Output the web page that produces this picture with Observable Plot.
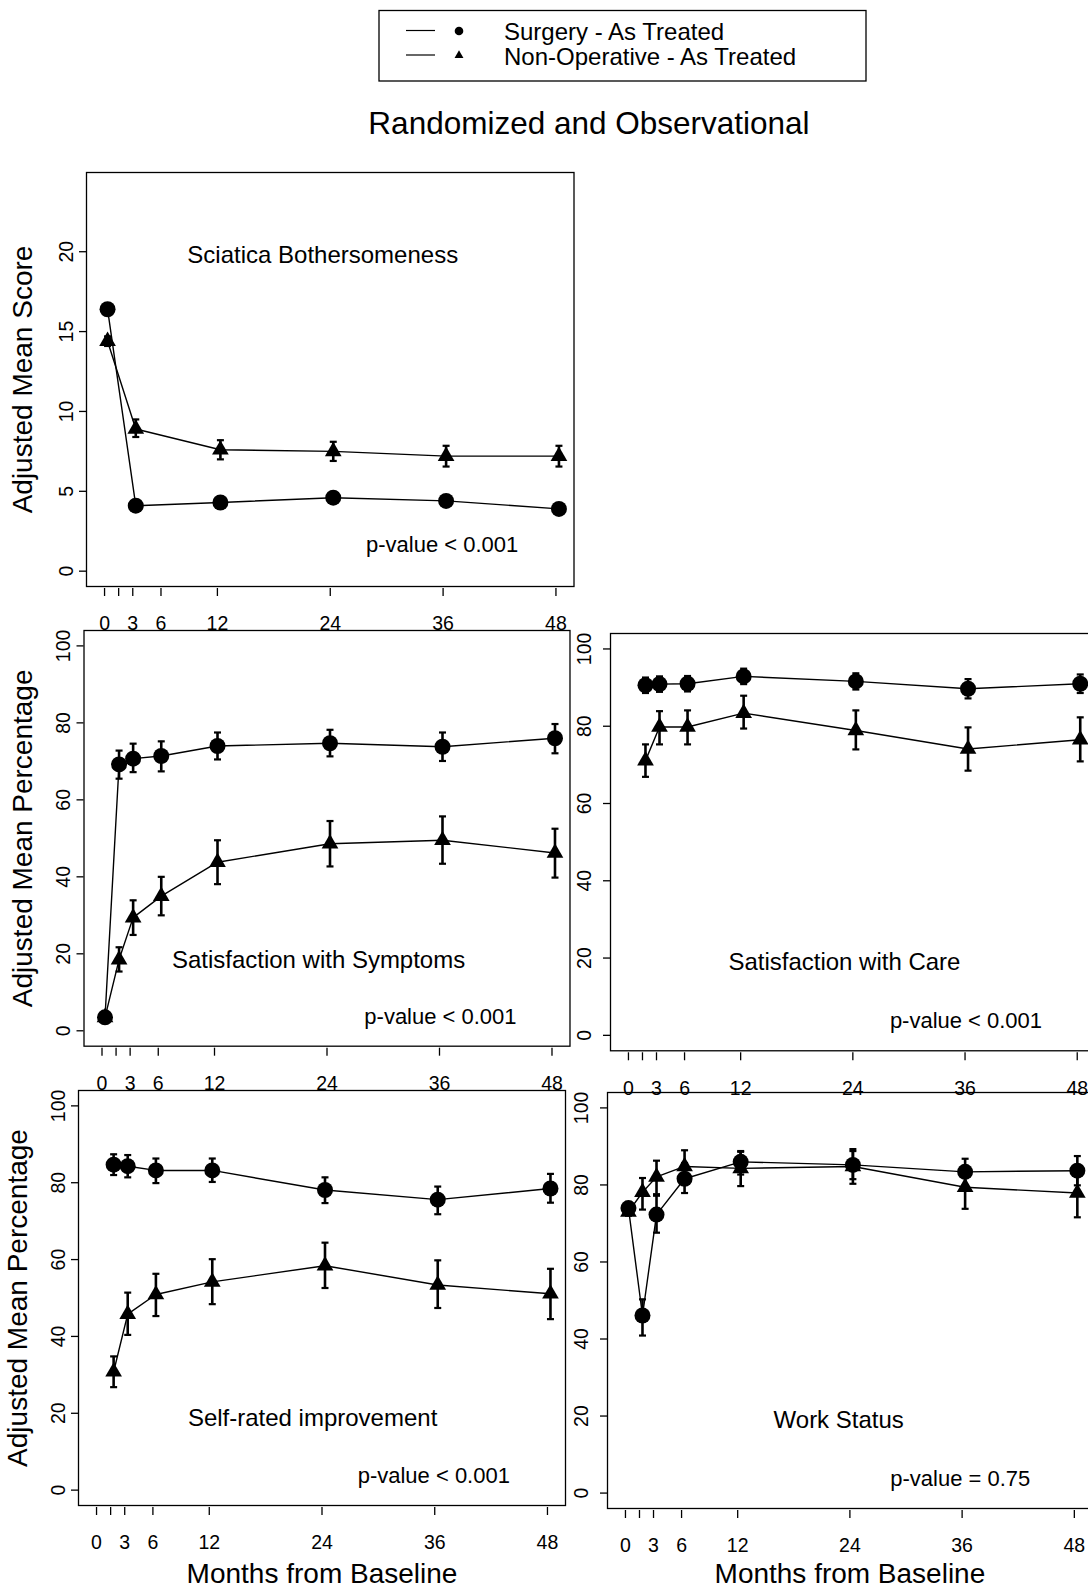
<!DOCTYPE html>
<html>
<head>
<meta charset="utf-8">
<script src="https://cdn.jsdelivr.net/npm/d3@7"></script>
<script src="https://cdn.jsdelivr.net/npm/@observablehq/plot@0.6"></script>
<style>
  body { margin: 0; background: #fff; }
  #page { position: relative; width: 1088px; height: 1593px; overflow: hidden; background: #fff;
          font-family: "Liberation Sans", Arial, sans-serif; }
  .panel { position: absolute; }
  .panel svg { overflow: visible; max-width: none; }
</style>
</head>
<body>
<div id="page"></div>
<script>
// ---------- shared axis values ----------
const tickMonths = [0, 1.5, 3, 6, 12, 24, 36, 48];
const tickLabels = ["0", "", "3", "6", "12", "24", "36", "48"];
const percentTicks = [0, 20, 40, 60, 80, 100];
const scoreTicks = [0, 5, 10, 15, 20];
const seriesNames = ["Surgery - As Treated", "Non-Operative - As Treated"];
const chartTitle = "Randomized and Observational";
const xAxisTitle = "Months from Baseline";

// ---------- Sciatica Bothersomeness ----------
const sciaticaMonths = [0, 3, 12, 24, 36, 48];
const sciaticaSurgery = [16.4, 4.1, 4.3, 4.6, 4.4, 3.9];
const sciaticaSurgeryLow = [16.1, 3.8, 4.0, 4.3, 4.1, 3.6];
const sciaticaSurgeryHigh = [16.7, 4.4, 4.6, 4.9, 4.7, 4.2];
const sciaticaNonOp = [14.4, 8.9, 7.6, 7.5, 7.2, 7.2];
const sciaticaNonOpLow = [14.1, 8.4, 7.0, 6.9, 6.55, 6.55];
const sciaticaNonOpHigh = [14.7, 9.5, 8.2, 8.1, 7.85, 7.85];

// ---------- Satisfaction with Symptoms ----------
const symptomsMonths = [0, 1.5, 3, 6, 12, 24, 36, 48];
const symptomsSurgery = [3.5, 69.2, 70.7, 71.4, 74.0, 74.7, 73.8, 76.0];
const symptomsSurgeryLow = [2.5, 65.5, 67.2, 67.4, 70.5, 71.3, 70.1, 72.1];
const symptomsSurgeryHigh = [4.5, 72.8, 74.6, 75.2, 77.5, 78.2, 77.5, 79.7];
const symptomsNonOp = [3.5, 18.5, 29.4, 35.0, 43.8, 48.6, 49.5, 46.2];
const symptomsNonOpLow = [2.5, 15.4, 24.9, 30.0, 38.1, 42.7, 43.4, 39.8];
const symptomsNonOpHigh = [4.5, 21.7, 33.9, 40.0, 49.5, 54.5, 55.7, 52.5];

// ---------- Satisfaction with Care ----------
const careMonths = [1.5, 3, 6, 12, 24, 36, 48];
const careSurgery = [90.6, 90.9, 91.0, 92.9, 91.6, 89.7, 91.0];
const careSurgeryLow = [88.6, 88.9, 89.0, 90.9, 89.5, 87.2, 88.6];
const careSurgeryHigh = [92.6, 92.9, 93.0, 94.9, 93.7, 92.2, 93.4];
const careNonOp = [71.1, 79.8, 79.8, 83.4, 78.9, 74.1, 76.5];
const careNonOpLow = [66.9, 75.3, 75.3, 79.4, 74.0, 68.5, 70.9];
const careNonOpHigh = [75.3, 83.9, 84.1, 87.9, 84.1, 79.7, 82.3];

// ---------- Self-rated improvement ----------
const improveMonths = [1.5, 3, 6, 12, 24, 36, 48];
const improveSurgery = [84.7, 84.3, 83.2, 83.2, 78.1, 75.6, 78.5];
const improveSurgeryLow = [82.0, 81.4, 79.9, 80.2, 74.7, 71.8, 74.8];
const improveSurgeryHigh = [87.4, 87.2, 86.3, 86.3, 81.4, 79.0, 82.3];
const improveNonOp = [30.8, 45.8, 50.9, 54.2, 58.4, 53.4, 51.1];
const improveNonOpLow = [26.8, 40.4, 45.3, 48.4, 52.6, 47.4, 44.5];
const improveNonOpHigh = [34.8, 51.4, 56.3, 60.1, 64.4, 59.8, 57.6];

// ---------- Work Status ----------
const workMonths = [0, 1.5, 3, 6, 12, 24, 36, 48];
const workSurgery = [74.0, 46.1, 72.3, 81.6, 86.0, 85.2, 83.4, 83.7];
const workSurgeryLow = [72.8, 40.9, 67.6, 77.9, 82.7, 81.5, 79.9, 79.9];
const workSurgeryHigh = [75.2, 50.3, 77.2, 85.7, 88.8, 89.3, 86.8, 87.5];
const workNonOp = [73.0, 78.1, 82.1, 84.8, 84.3, 84.8, 79.4, 77.9];
const workNonOpLow = [72.0, 73.6, 77.6, 80.7, 79.7, 80.3, 73.8, 71.6];
const workNonOpHigh = [74.0, 81.8, 86.3, 89.0, 88.6, 88.8, 84.3, 83.9];

// ---------- panel texts ----------
const panelTitles = ["Sciatica Bothersomeness", "Satisfaction with Symptoms", "Satisfaction with Care",
                     "Self-rated improvement", "Work Status"];
const pValueLabels = ["p-value < 0.001", "p-value < 0.001", "p-value < 0.001", "p-value < 0.001", "p-value = 0.75"];
const yAxisTitles = ["Adjusted Mean Score", "Adjusted Mean Percentage", null, "Adjusted Mean Percentage", null];

// ---------- helpers ----------
const FONT = '"Liberation Sans", Arial, Helvetica, sans-serif';
const labelOf = new Map(tickMonths.map((m, i) => [m, tickLabels[i]]));
const capSymbol = {
  draw(context, size) {
    const w = Math.sqrt(size / Math.PI);
    context.moveTo(-w, 0);
    context.lineTo(w, 0);
  }
};

function rows(months, vals, lo, hi, group) {
  return months.map((m, i) => ({month: m, value: vals[i], lo: lo[i], hi: hi[i], group}));
}

const page = document.getElementById("page");
const PAGE_H = 1593;

function drawPanel(p) {
  const [L, T, R, B] = p.box;
  const mL = p.leftCol ? L : 50;
  const mT = 10, mR = 10;
  const mB = p.bottomRow ? PAGE_H - B : 60;
  const width = R - L + mL + mR;
  const height = B - T + mT + mB;
  const surg = rows(p.months, p.surgery[0], p.surgery[1], p.surgery[2], seriesNames[0]);
  const nonop = rows(p.months, p.nonop[0], p.nonop[1], p.nonop[2], seriesNames[1]);
  const all = nonop.concat(surg);
  const shift = 3;
  const marks = [
    Plot.frame({stroke: "black", strokeWidth: 1.3}),
    Plot.axisX({ticks: tickMonths, tickFormat: d => labelOf.get(d), tickSize: 8, tickPadding: 20, dy: 2,
                fontSize: 19.5, strokeWidth: 1.3, label: null}),
    Plot.axisY({ticks: p.yTicks, tickSize: 7, tickPadding: p.leftCol ? 7 : 13, tickRotate: -90, fontSize: 19.5,
                strokeWidth: 1.3, label: null}),
    Plot.ruleX(all, {x: "month", y1: "lo", y2: "hi", stroke: "black", strokeWidth: 2.6, dx: shift}),
    Plot.dot(all, {x: "month", y: "lo", symbol: capSymbol, r: 3.5, stroke: "black", fill: "none", strokeWidth: 2.2, dx: shift}),
    Plot.dot(all, {x: "month", y: "hi", symbol: capSymbol, r: 3.5, stroke: "black", fill: "none", strokeWidth: 2.2, dx: shift}),
    Plot.line(all, {x: "month", y: "value", z: "group", stroke: "black", strokeWidth: 1.4, dx: shift}),
    Plot.dot(nonop, {x: "month", y: "value", symbol: "triangle", r: 6.2, fill: "black", stroke: "none", dx: shift}),
    Plot.dot(surg, {x: "month", y: "value", symbol: "circle", r: 8, fill: "black", stroke: "none", dx: shift}),
    Plot.text([p.title], {x: p.titleAt[0], y: p.titleAt[1], text: d => d, fontSize: 24, fill: "black"}),
    Plot.text([p.pValue], {x: p.pAt[0], y: p.pAt[1], text: d => d, fontSize: 22, fill: "black"})
  ];
  if (p.yTitle) {
    marks.push(Plot.text([p.yTitle], {frameAnchor: "left", rotate: -90, textAnchor: "middle", dx: -p.yTitleOffset,
                                      text: d => d, fontSize: 28, fill: "black"}));
  }
  if (p.bottomRow) {
    marks.push(Plot.text([xAxisTitle], {frameAnchor: "bottom", textAnchor: "middle", lineAnchor: "middle",
                                        dy: p.xTitleOffset, text: d => d, fontSize: 28, fill: "black"}));
  }
  const chart = Plot.plot({
    width, height,
    marginLeft: mL, marginRight: mR, marginTop: mT, marginBottom: mB,
    x: {domain: [-1.92, 49.92]},
    y: {domain: p.yDomain},
    style: {background: "transparent", fontFamily: FONT, fontSize: "19.5px", color: "black", overflow: "visible", maxWidth: "none"},
    marks
  });
  const wrap = document.createElement("div");
  wrap.className = "panel";
  wrap.style.left = (L - mL) + "px";
  wrap.style.top = (T - mT) + "px";
  wrap.style.width = width + "px";
  wrap.style.height = height + "px";
  wrap.appendChild(chart);
  page.appendChild(wrap);
}

const panels = [
  {box: [86, 172, 573.5, 586], leftCol: true, bottomRow: false, yDomain: [-0.96, 24.96], yTicks: scoreTicks,
   months: sciaticaMonths,
   surgery: [sciaticaSurgery, sciaticaSurgeryLow, sciaticaSurgeryHigh],
   nonop: [sciaticaNonOp, sciaticaNonOpLow, sciaticaNonOpHigh],
   title: panelTitles[0], pValue: pValueLabels[0], yTitle: yAxisTitles[0], yTitleOffset: 63.5,
   titleAt: [23.2, 19.8], pAt: [35.9, 1.63]},
  {box: [83.5, 630, 569.5, 1045.7], leftCol: true, bottomRow: false, yDomain: [-4, 104], yTicks: percentTicks,
   months: symptomsMonths,
   surgery: [symptomsSurgery, symptomsSurgeryLow, symptomsSurgeryHigh],
   nonop: [symptomsNonOp, symptomsNonOpLow, symptomsNonOpHigh],
   title: panelTitles[1], pValue: pValueLabels[1], yTitle: yAxisTitles[1], yTitleOffset: 61,
   titleAt: [23.1, 18.4], pAt: [36.1, 3.5]},
  {box: [610, 632.7, 1094.7, 1050], leftCol: false, bottomRow: false, yDomain: [-4, 104], yTicks: percentTicks,
   months: careMonths,
   surgery: [careSurgery, careSurgeryLow, careSurgeryHigh],
   nonop: [careNonOp, careNonOpLow, careNonOpHigh],
   title: panelTitles[2], pValue: pValueLabels[2], yTitle: yAxisTitles[2],
   titleAt: [23.1, 18.8], pAt: [36.1, 3.75]},
  {box: [78, 1090, 565, 1505], leftCol: true, bottomRow: true, yDomain: [-4, 104], yTicks: percentTicks,
   months: improveMonths,
   surgery: [improveSurgery, improveSurgeryLow, improveSurgeryHigh],
   nonop: [improveNonOp, improveNonOpLow, improveNonOpHigh],
   title: panelTitles[3], pValue: pValueLabels[3], yTitle: yAxisTitles[3], yTitleOffset: 60,
   titleAt: [23.0, 18.75], pAt: [35.9, 3.6], xTitleOffset: 69},
  {box: [607, 1092, 1091.8, 1508], leftCol: false, bottomRow: true, yDomain: [-4, 104], yTicks: percentTicks,
   months: workMonths,
   surgery: [workSurgery, workSurgeryLow, workSurgeryHigh],
   nonop: [workNonOp, workNonOpLow, workNonOpHigh],
   title: panelTitles[4], pValue: pValueLabels[4], yTitle: yAxisTitles[4],
   titleAt: [22.8, 18.8], pAt: [35.8, 3.7], xTitleOffset: 66}
];

panels.forEach(drawPanel);

// ---------- legend and title (header above the panels) ----------
const head = d3.select(page).append("svg")
  .attr("width", 1088).attr("height", 150)
  .style("position", "absolute").style("left", "0px").style("top", "0px")
  .style("font-family", FONT);

head.append("rect")
  .attr("x", 379).attr("y", 10.5).attr("width", 487).attr("height", 70.5)
  .attr("fill", "white").attr("stroke", "black").attr("stroke-width", 1.3);

const rowsY = [31.5, 56];
seriesNames.forEach((name, i) => {
  const cy = rowsY[i];
  head.append("line").attr("x1", 406).attr("x2", 435).attr("y1", cy - 1).attr("y2", cy - 1)
    .attr("stroke", "black").attr("stroke-width", 1.2);
  const sym = i === 0 ? d3.symbolCircle : d3.symbolTriangle;
  const size = i === 0 ? Math.PI * 4.3 * 4.3 : Math.PI * 3.3 * 3.3;
  head.append("path").attr("d", d3.symbol(sym, size)())
    .attr("transform", `translate(459,${cy - 0.5})`).attr("fill", "black");
  head.append("text").attr("x", 504).attr("y", cy + 8.5)
    .attr("font-size", 24).attr("fill", "black").text(name);
});

head.append("text").attr("x", 589).attr("y", 134).attr("text-anchor", "middle")
  .attr("font-size", 31.5).attr("fill", "black").text(chartTitle);
</script>
</body>
</html>
